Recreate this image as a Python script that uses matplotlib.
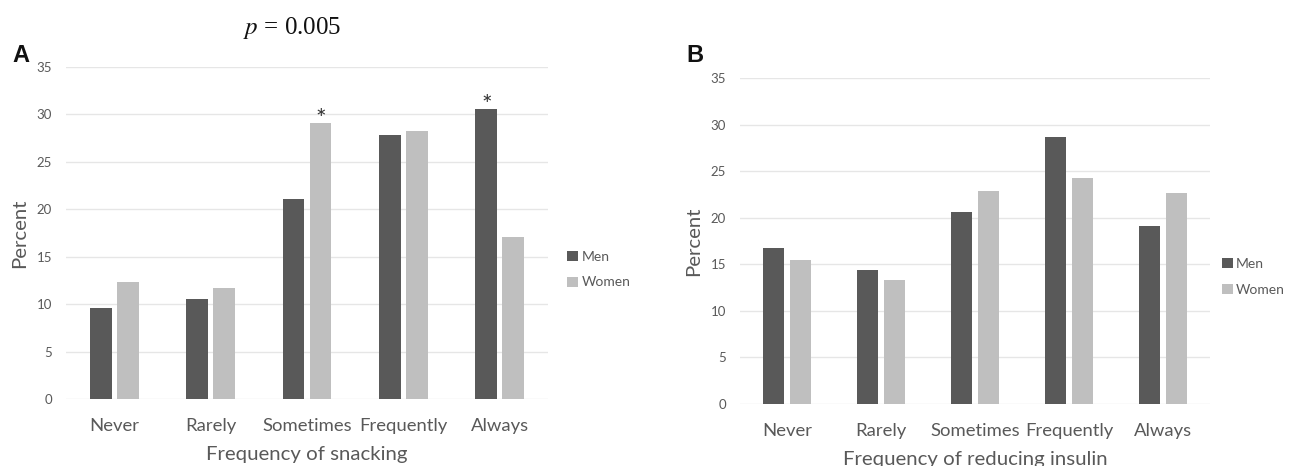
import numpy as np
import matplotlib
matplotlib.use('Agg')
import matplotlib.pyplot as plt

categories = ['Never', 'Rarely', 'Sometimes', 'Frequently', 'Always']
menSnack = [9.6, 10.5, 21.1, 27.8, 30.6]
womenSnack = [12.3, 11.7, 29.1, 28.3, 17.1]
menInsulin = [16.7, 14.4, 20.6, 28.7, 19.1]
womenInsulin = [15.5, 13.3, 22.9, 24.3, 22.7]
starsSnack = [(2, 'Women'), (4, 'Men')]
yTicks = [0, 5, 10, 15, 20, 25, 30, 35]

menColor = '#595959'
womenColor = '#bfbfbf'
textColor = '#595959'
font = ['Lato', 'DejaVu Sans']
plt.rcParams['font.family'] = font

fig = plt.figure(figsize = (12.91, 4.66), dpi = 100)
axA = fig.add_axes([0.0511, 0.1438, 0.3734, 0.7124])
axB = fig.add_axes([0.5732, 0.1330, 0.3641, 0.6996])

def drawPanel(ax, men, women, xlabel, stars = (), legX = 1.02):
 x = np.arange(len(categories))
 w = 0.225
 ax.bar(x - 0.14, men, width = w, color = menColor, label = 'Men', zorder = 3)
 ax.bar(x + 0.14, women, width = w, color = womenColor, label = 'Women', zorder = 3)
 for idx, who in stars:
  val = men[idx] if who == 'Men' else women[idx]
  xpos = x[idx] - 0.14 if who == 'Men' else x[idx] + 0.14
  ax.annotate('*', (xpos, val), xytext = (0, -6), textcoords = 'offset points',
              ha = 'center', va = 'bottom', fontsize = 18, color = '#333333')
 ax.set_xlim(-0.5, len(categories) - 0.5)
 ax.set_ylim(0, 35)
 ax.set_yticks(yTicks)
 ax.set_xticks(x)
 ax.set_xticklabels(categories, fontsize = 13.3, color = textColor)
 ax.tick_params(axis = 'y', labelsize = 9.5, colors = textColor, length = 0, pad = 10)
 ax.tick_params(axis = 'x', length = 0, pad = 14)
 for s in ax.spines.values():
  s.set_visible(False)
 ax.grid(axis = 'y', color = '#e6e6e6', linewidth = 1, zorder = 0)
 ax.set_ylabel('Percent', fontsize = 14.7, color = textColor, labelpad = 6)
 ax.set_xlabel(xlabel, fontsize = 14.7, color = textColor, labelpad = 8)
 ax.legend(loc = 'center left', bbox_to_anchor = (legX, 0.39), frameon = False,
           fontsize = 10, handlelength = 0.75, handleheight = 0.75, handletextpad = 0.25,
           labelcolor = textColor, labelspacing = 1.0, borderaxespad = 0.3)

drawPanel(axA, menSnack, womenSnack, 'Frequency of snacking', starsSnack)
drawPanel(axB, menInsulin, womenInsulin, 'Frequency of reducing insulin', legX = 1.005)

fig.text(0.0093, 0.867, 'A', fontsize = 17, fontweight = 'bold', color = '#111111', va = 'baseline',
         family = ['Liberation Sans'])
fig.text(0.532, 0.867, 'B', fontsize = 17, fontweight = 'bold', color = '#111111', va = 'baseline',
         family = ['Liberation Sans'])
fig.text(0.226, 0.94, r'$p$ = 0.005', fontsize = 18, ha = 'center', va = 'center', color = '#111111',
         family = ['Liberation Serif'], math_fontfamily = 'stix')

fig.savefig('out.png', dpi = 100, facecolor = 'white')
